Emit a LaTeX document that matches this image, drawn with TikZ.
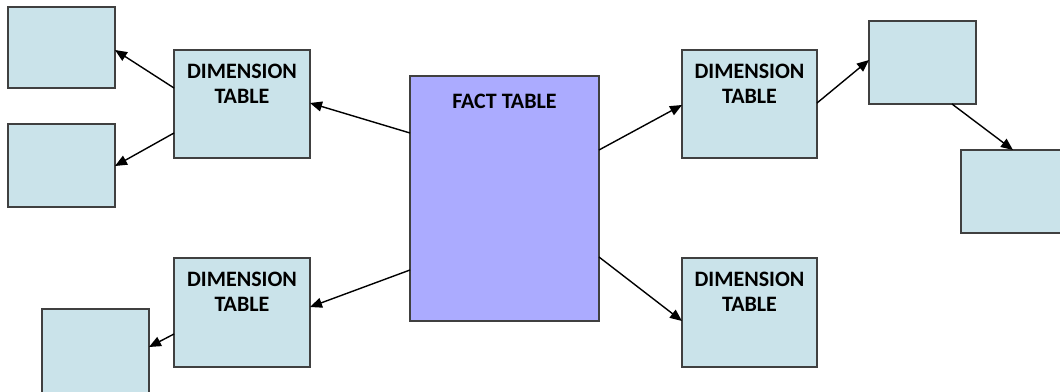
\documentclass[tikz,border=0pt]{standalone}
\usepackage{fontspec}
\setmainfont{Carlito}
\usetikzlibrary{arrows.meta}
\definecolor{dimfill}{RGB}{202,227,234}
\definecolor{factfill}{RGB}{171,171,255}
\definecolor{edge}{RGB}{64,64,64}
\tikzset{
  tbl/.style={draw=edge, line width=1.3pt, fill=dimfill, anchor=north west, inner sep=0pt, outer sep=0pt},
  facttbl/.style={tbl, fill=factfill},
  ttl/.style={font=\bfseries\fontsize{22}{25}\selectfont, align=center, inner sep=0pt, anchor=north},
  conn/.style={line width=1.4pt, -{Triangle[length=12pt,width=10pt]}},
}
\begin{document}
\begin{tikzpicture}[x=1pt,y=-1pt]
\useasboundingbox (0,0) rectangle (1060,391);
\clip (0,0) rectangle (1060,391);
% fact table
\node[facttbl, minimum width=189pt, minimum height=245pt] (fact) at (410,76) {};
\node[ttl] (factT) at ([yshift=-18pt]fact.north) {FACT TABLE};
% dimension tables
\node[tbl, minimum width=136pt, minimum height=108pt] (dA) at (174,50) {};
\node[ttl] (dAT) at ([yshift=-14pt]dA.north) {DIMENSION\\TABLE};
\node[tbl, minimum width=136pt, minimum height=109pt] (dB) at (174,258) {};
\node[ttl] (dBT) at ([yshift=-14pt]dB.north) {DIMENSION\\TABLE};
\node[tbl, minimum width=135pt, minimum height=108pt] (dC) at (682,50) {};
\node[ttl] (dCT) at ([yshift=-14pt]dC.north) {DIMENSION\\TABLE};
\node[tbl, minimum width=135pt, minimum height=109pt] (dD) at (682,258) {};
\node[ttl] (dDT) at ([yshift=-14pt]dD.north) {DIMENSION\\TABLE};
% empty tables
\node[tbl, minimum width=107pt, minimum height=81pt] (e1) at (8,7) {};
\node[tbl, minimum width=107pt, minimum height=83pt] (e2) at (8,124) {};
\node[tbl, minimum width=107pt, minimum height=100pt] (e3) at (42,309) {};
\node[tbl, minimum width=107pt, minimum height=83pt] (e4) at (869,21) {};
\node[tbl, minimum width=110pt, minimum height=83pt] (e5) at (961,150) {};
% connectors
\draw[conn] ([yshift=-57pt]fact.north west) -- ([yshift=-53pt]dA.north east);
\draw[conn] ([yshift=-194pt]fact.north west) -- ([yshift=-49pt]dB.north east);
\draw[conn] ([yshift=-74pt]fact.north east) -- ([yshift=-55pt]dC.north west);
\draw[conn] ([yshift=-181pt]fact.north east) -- ([yshift=-63pt]dD.north west);
\draw[conn] ([yshift=-38pt]dA.north west) -- ([yshift=-43pt]e1.north east);
\draw[conn] ([yshift=-83pt]dA.north west) -- ([yshift=-42pt]e2.north east);
\draw[conn] ([yshift=-76pt]dB.north west) -- ([yshift=-38pt]e3.north east);
\draw[conn] ([yshift=-53pt]dC.north east) -- ([yshift=-39pt]e4.north west);
\draw[conn] ([xshift=83pt]e4.south west) -- ([xshift=52pt]e5.north west);
\end{tikzpicture}
\end{document}
